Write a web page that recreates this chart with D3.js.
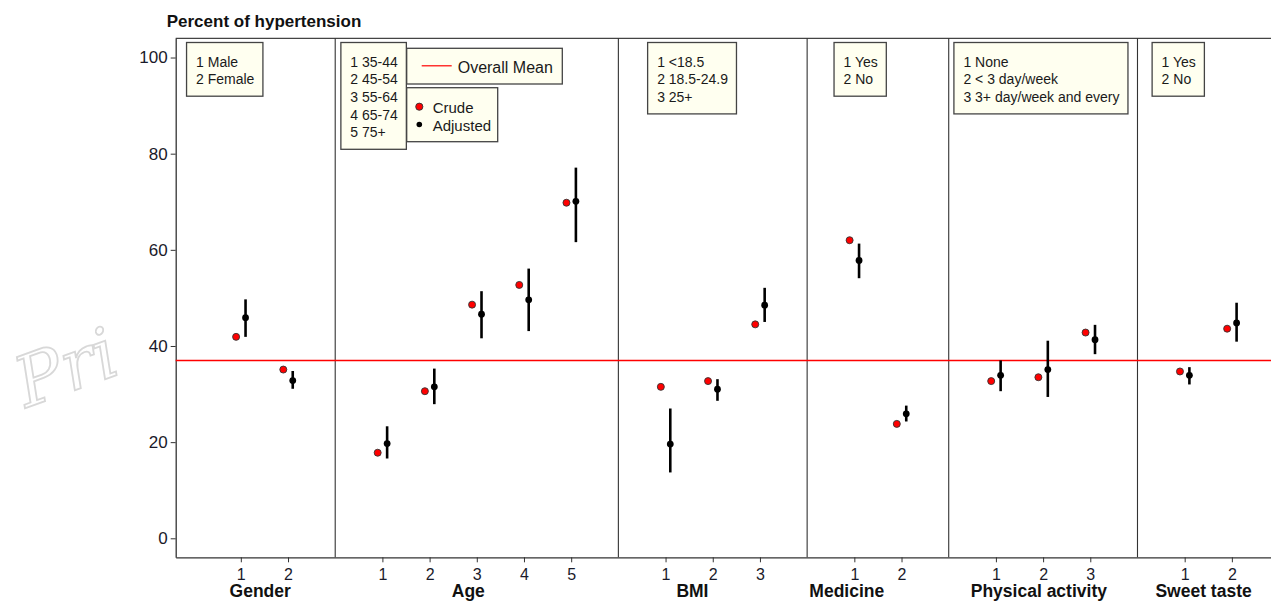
<!DOCTYPE html>
<html><head><meta charset="utf-8">
<script src="https://cdn.jsdelivr.net/npm/d3@7"></script>
<style>
body{margin:0;background:#fff;}
svg{display:block;font-family:"Liberation Sans",Arial,sans-serif;}
</style></head>
<body>
<svg id="chart" width="1271" height="603"></svg>
<script>
// ---------------- DATA ----------------
const groups = ["Gender","Age","BMI","Medicine","Physical activity","Sweet taste"];
const levelCounts = [2,5,3,2,3,2];
const levelLabels = [
  ["1 Male","2 Female"],
  ["1 35-44","2 45-54","3 55-64","4 65-74","5 75+"],
  ["1 <18.5","2 18.5-24.9","3 25+"],
  ["1 Yes","2 No"],
  ["1 None","2 < 3 day/week","3 3+ day/week and every"],
  ["1 Yes","2 No"]
];
const crude    = [41.9,35.1, 17.8,30.6,48.6,52.7,69.8, 31.5,32.7,44.5, 62.0,23.8, 32.7,33.5,42.8, 34.7,43.6];
const adjusted = [45.9,32.8, 19.7,31.5,46.6,49.6,70.1, 19.6,31.0,48.5, 57.8,25.9, 33.9,35.1,41.3, 33.9,44.8];
const lower    = [41.9,31.1, 16.6,27.9,41.6,43.1,61.6, 13.7,28.6,45.0, 54.1,24.3, 30.6,29.4,38.3, 32.0,40.9];
const upper    = [49.7,34.8, 23.3,35.3,51.4,56.1,77.1, 27.0,33.1,52.1, 61.3,27.6, 37.0,41.1,44.4, 35.6,49.0];
const overallMean = 37.15;
const yTicks = [0,20,40,60,80,100];
const titleText = "Percent of hypertension";
const meanLegend = "Overall Mean";
const pointLegend = ["Crude","Adjusted"];
const watermarkText = "Pri";

// ---------------- LAYOUT ----------------
const svg = d3.select("#chart");
const W = 1271, H = 603;
const plotL = 175.7, plotR = 1297, plotT = 38.3, plotB = 557.3;
const x = d3.scaleLinear().domain([-1.38, 22.38]).range([plotL, plotR]);
const y = d3.scaleLinear().domain([-3.95, 104]).range([plotB, plotT]);

// positions: consecutive within group, one empty slot (divider) between groups
const rows = [];
const groupInfo = [];
let pos = 0, k = 0;
groups.forEach((g, gi) => {
  const start = pos;
  for (let j = 0; j < levelCounts[gi]; j++) {
    rows.push({g: gi, level: j + 1, pos: pos, crude: crude[k], adj: adjusted[k], lo: lower[k], hi: upper[k]});
    pos++; k++;
  }
  groupInfo.push({name: g, start: start, end: pos - 1});
  pos += 1; // divider slot
});

// watermark
svg.append("text")
  .attr("transform","translate(26,408) rotate(-20)")
  .attr("font-family","DejaVu Serif, serif")
  .attr("font-style","italic")
  .attr("font-size",70)
  .attr("fill","#fff")
  .attr("stroke","#d8d8d8")
  .attr("stroke-width",1.8)
  .text(watermarkText);

// title
svg.append("text").attr("x",166.7).attr("y",26.7)
  .attr("font-size",17).attr("font-weight","bold").attr("fill","#111")
  .text(titleText);

// frame top line
svg.append("line").attr("x1",plotL).attr("x2",plotR).attr("y1",plotT).attr("y2",plotT)
  .attr("stroke","#444").attr("stroke-width",1.3);

// dividers
const dividerPos = groupInfo.slice(0,-1).map(d => d.end + 1);
svg.append("g").selectAll("line").data(dividerPos).join("line")
  .attr("x1",d=>x(d)).attr("x2",d=>x(d)).attr("y1",plotT).attr("y2",plotB)
  .attr("stroke","#333").attr("stroke-width",1.1);

// y axis
const yAxis = svg.append("g").attr("transform",`translate(${plotL},0)`)
  .call(d3.axisLeft(y).tickValues(yTicks).tickSize(5).tickSizeOuter(0).tickPadding(3));
yAxis.selectAll("text").attr("font-size",17).attr("fill","#1a1a2a").attr("font-family","Liberation Sans, Arial, sans-serif");
yAxis.select(".domain").attr("stroke","#333").attr("stroke-width",1.3);
yAxis.selectAll(".tick line").attr("stroke","#333");

// x axis
const xAxis = svg.append("g").attr("transform",`translate(0,${plotB})`)
  .call(d3.axisBottom(x).tickValues(rows.map(r=>r.pos)).tickSize(5).tickSizeOuter(0).tickPadding(6)
        .tickFormat((d,i)=>String(rows[i].level)));
xAxis.selectAll("text").attr("font-size",16).attr("fill","#1a1a2a").attr("font-family","Liberation Sans, Arial, sans-serif");
xAxis.select(".domain").attr("stroke","#333").attr("stroke-width",1.3);
xAxis.selectAll(".tick line").attr("stroke","#333");

// group axis titles (label anchor offsets, in x units, relative to group center)
const labelShift = [-0.09,-0.18,-0.43,-0.66,-0.09,-0.1];
svg.append("g").selectAll("text").data(groupInfo).join("text")
  .attr("x",(d,i)=>x((d.start+d.end)/2 + labelShift[i]))
  .attr("y",597)
  .attr("text-anchor","middle")
  .attr("font-size",17.5).attr("font-weight","bold").attr("fill","#111")
  .text(d=>d.name);

// overall mean line
svg.append("line").attr("x1",plotL).attr("x2",plotR)
  .attr("y1",Math.round(y(overallMean))+0.5).attr("y2",Math.round(y(overallMean))+0.5)
  .attr("stroke","#ff0000").attr("stroke-width",1.3);

// CI lines
const off = 0.1;
svg.append("g").selectAll("line").data(rows).join("line")
  .attr("x1",d=>x(d.pos+off)).attr("x2",d=>x(d.pos+off))
  .attr("y1",d=>y(d.lo)).attr("y2",d=>y(d.hi))
  .attr("stroke","#000").attr("stroke-width",2.6);
// adjusted points
svg.append("g").selectAll("circle").data(rows).join("circle")
  .attr("cx",d=>x(d.pos+off)).attr("cy",d=>y(d.adj)).attr("r",3.4)
  .attr("fill","#000");
// crude points
svg.append("g").selectAll("circle").data(rows).join("circle")
  .attr("cx",d=>x(d.pos-off)).attr("cy",d=>y(d.crude)).attr("r",3.5)
  .attr("fill","#ff0000").attr("stroke","#333").attr("stroke-width",0.9);

// level legend boxes (box left edge in x units)
const boxLeft = [-1.15, 2.12, 8.62, 12.57, 15.11, 19.31];
const boxTop = 42.5, lineH = 17.7;
groupInfo.forEach((gInfo, gi) => {
  const gx = x(boxLeft[gi]);
  const g = svg.append("g");
  const rect = g.append("rect");
  const texts = g.selectAll("text").data(levelLabels[gi]).join("text")
    .attr("x", gx + 9.5)
    .attr("y",(d,i)=> boxTop + 24 + i*lineH)
    .attr("font-size",14).attr("fill","#1a1a1a")
    .text(d=>d);
  let maxW = 0;
  texts.each(function(){ maxW = Math.max(maxW, this.getComputedTextLength()); });
  const n = levelLabels[gi].length;
  rect.attr("x",gx).attr("y",boxTop)
    .attr("width",maxW + 18).attr("height",24 + (n-1)*lineH + 12)
    .attr("fill","#fffff0").attr("stroke","#444").attr("stroke-width",1.3);
});

// overall mean legend
const lg = svg.append("g");
lg.append("rect").attr("x",406.7).attr("y",48.3).attr("width",155.6).attr("height",35.7)
  .attr("fill","#fffff0").attr("stroke","#444").attr("stroke-width",1.3);
lg.append("line").attr("x1",421.7).attr("x2",451.7).attr("y1",65.8).attr("y2",65.8)
  .attr("stroke","#ff0000").attr("stroke-width",1.2);
lg.append("text").attr("x",457.7).attr("y",72.5).attr("font-size",16).attr("fill","#1a1a1a").text(meanLegend);

// crude/adjusted legend
const pg = svg.append("g");
pg.append("rect").attr("x",406.7).attr("y",87.7).attr("width",91).attr("height",54)
  .attr("fill","#fffff0").attr("stroke","#444").attr("stroke-width",1.3);
pg.append("circle").attr("cx",419.3).attr("cy",106.7).attr("r",3.6)
  .attr("fill","#ff0000").attr("stroke","#333").attr("stroke-width",0.9);
pg.append("circle").attr("cx",419.3).attr("cy",124.5).attr("r",2.8).attr("fill","#000");
pg.selectAll("text").data(pointLegend).join("text")
  .attr("x",432.7).attr("y",(d,i)=>112.5 + i*18)
  .attr("font-size",15).attr("fill","#1a1a1a").text(d=>d);
</script>
</body></html>
